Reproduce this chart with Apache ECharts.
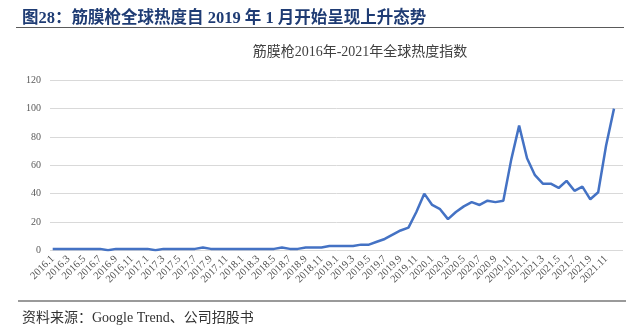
<!DOCTYPE html>
<html>
<head>
<meta charset="utf-8">
<script src="https://cdn.jsdelivr.net/npm/echarts@6/dist/echarts.min.js"></script>
<style>
  html, body { margin: 0; padding: 0; background: #fff; }
  #chart { width: 640px; height: 329px; }
</style>
</head>
<body>
<div id="chart"></div>
<script>
// Monthly categories 2016.1 – 2021.12
const years = [2016, 2017, 2018, 2019, 2020, 2021];
const months = years.flatMap(y => Array.from({ length: 12 }, (_, m) => y + '.' + (m + 1)));

// Global interest index (Google Trends, 0–100)
const heat2016 = [1, 1, 1, 1, 1, 1, 1, 0, 1, 1, 1, 1];
const heat2017 = [1, 0, 1, 1, 1, 1, 1, 2, 1, 1, 1, 1];
const heat2018 = [1, 1, 1, 1, 1, 2, 1, 1, 2, 2, 2, 3];
const heat2019 = [3, 3, 3, 4, 4, 6, 8, 11, 14, 16, 27, 40];
const heat2020 = [32, 29, 22, 27, 31, 34, 32, 35, 34, 35, 64, 88];
const heat2021 = [65, 53, 47, 47, 44, 49, 42, 45, 36, 41, 74, 100];
const heat = [].concat(heat2016, heat2017, heat2018, heat2019, heat2020, heat2021);

const yTicks = { min: 0, max: 120, interval: 20 };

const headText = '图28：筋膜枪全球热度自 2019 年 1 月开始呈现上升态势';
const chartTitle = '筋膜枪2016年-2021年全球热度指数';
const sourceText = '资料来源：Google Trend、公司招股书';

const serif = '"Liberation Serif", "Times New Roman", "Noto Sans CJK SC", serif';

const chart = echarts.init(document.getElementById('chart'), null, { renderer: 'canvas' });
chart.setOption({
  backgroundColor: '#ffffff',
  animation: false,
  title: [
    {
      text: headText, left: 17, top: 5,
      textStyle: { fontFamily: serif, fontSize: 16.5, fontWeight: 'bold', color: '#1f3c74' }
    },
    {
      text: chartTitle, left: 355, top: 40, textAlign: 'center',
      textStyle: { fontFamily: serif, fontSize: 14, fontWeight: 'normal', color: '#404040' }
    },
    {
      text: sourceText, left: 17, top: 306,
      textStyle: { fontFamily: serif, fontSize: 14, fontWeight: 'normal', color: '#333333' }
    }
  ],
  graphic: [
    { type: 'line', shape: { x1: 16, y1: 27.5, x2: 624, y2: 27.5 }, style: { stroke: '#5a5a5a', lineWidth: 1 } },
    { type: 'line', shape: { x1: 18, y1: 301, x2: 626, y2: 301 }, style: { stroke: '#9a9a9a', lineWidth: 2 } }
  ],
  grid: [
    { left: 50, right: 17, top: 80.3, bottom: 78.7 },
    { left: 52.7, right: 26, top: 80.3, bottom: 78.7 }
  ],
  xAxis: [
    { gridIndex: 0, type: 'value', show: false, min: 0, max: 1 },
    {
      gridIndex: 1, type: 'category', data: months, boundaryGap: false,
      axisLine: { show: false }, axisTick: { show: false },
      axisLabel: {
        interval: 1, rotate: 45, margin: 7,
        fontFamily: serif, fontSize: 10.5, color: '#505050'
      }
    }
  ],
  yAxis: [
    {
      gridIndex: 0, type: 'value', min: yTicks.min, max: yTicks.max, interval: yTicks.interval,
      axisLine: { show: false }, axisTick: { show: false },
      axisLabel: { margin: 9, fontFamily: serif, fontSize: 10, color: '#595959' },
      splitLine: { lineStyle: { color: '#d9d9d9', width: 1 } }
    },
    {
      gridIndex: 1, type: 'value', min: yTicks.min, max: yTicks.max, interval: yTicks.interval,
      show: false, splitLine: { show: false }
    }
  ],
  series: [
    {
      type: 'line', xAxisIndex: 1, yAxisIndex: 1, data: heat,
      showSymbol: false, smooth: false,
      lineStyle: { color: '#4472c4', width: 2.5 },
      itemStyle: { color: '#4472c4' }
    }
  ]
});
</script>
</body>
</html>
